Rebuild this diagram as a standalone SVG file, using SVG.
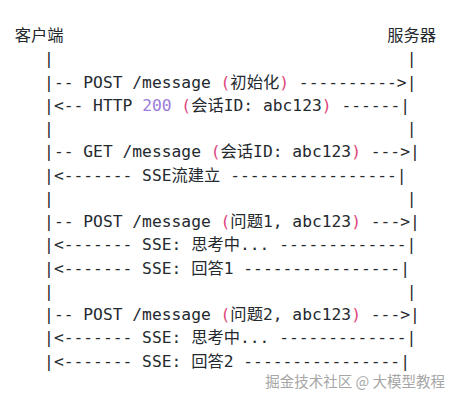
<svg xmlns="http://www.w3.org/2000/svg" width="456" height="401" viewBox="0 0 456 401">
<style>
.code{font-family:"DejaVu Sans Mono","Noto Sans CJK SC",monospace;font-size:16.3px;fill:#24292e;white-space:pre}
.p{fill:#e0457b}
.n{fill:#9b7bd9}
.wm{font-family:"Noto Sans CJK SC","Noto Sans",sans-serif;font-size:14.5px;fill:#a6a6a6;stroke:#ffffff;stroke-width:2.5px;paint-order:stroke;stroke-linejoin:round}
</style>
<rect width="456" height="401" fill="#ffffff"/>
<g id="client"><text class="code" x="14.7" y="41.2">客户端</text></g>
<g id="server"><text class="code" x="387.3" y="41.2">服务器</text></g>
<g id="connectors">
<text class="code" x="14.7" y="64.4" xml:space="preserve">   |                                    |</text>
<text class="code" x="14.7" y="87.65" xml:space="preserve">   |-- POST /message <tspan class="p">(</tspan>初始化<tspan class="p">)</tspan> ---------->|</text>
<text class="code" x="14.7" y="110.9" xml:space="preserve">   |&lt;-- HTTP <tspan class="n">200</tspan> <tspan class="p">(</tspan>会话ID: abc123<tspan class="p">)</tspan> ------|</text>
<text class="code" x="14.7" y="134.15" xml:space="preserve">   |                                    |</text>
<text class="code" x="14.7" y="157.4" xml:space="preserve">   |-- GET /message <tspan class="p">(</tspan>会话ID: abc123<tspan class="p">)</tspan> ---&gt;|</text>
<text class="code" x="14.7" y="180.65" xml:space="preserve">   |&lt;------- SSE流建立 -----------------|</text>
<text class="code" x="14.7" y="203.9" xml:space="preserve">   |                                    |</text>
<text class="code" x="14.7" y="227.15" xml:space="preserve">   |-- POST /message <tspan class="p">(</tspan>问题1, abc123<tspan class="p">)</tspan> ---&gt;|</text>
<text class="code" x="14.7" y="250.4" xml:space="preserve">   |&lt;------- SSE: 思考中... -------------|</text>
<text class="code" x="14.7" y="273.65" xml:space="preserve">   |&lt;------- SSE: 回答1 ----------------|</text>
<text class="code" x="14.7" y="296.9" xml:space="preserve">   |                                    |</text>
<text class="code" x="14.7" y="320.15" xml:space="preserve">   |-- POST /message <tspan class="p">(</tspan>问题2, abc123<tspan class="p">)</tspan> ---&gt;|</text>
<text class="code" x="14.7" y="343.4" xml:space="preserve">   |&lt;------- SSE: 思考中... -------------|</text>
<text class="code" x="14.7" y="366.65" xml:space="preserve">   |&lt;------- SSE: 回答2 ----------------|</text>
</g>
<text class="wm" x="445" y="387" text-anchor="end">掘金技术社区 @ 大模型教程</text>
</svg>
